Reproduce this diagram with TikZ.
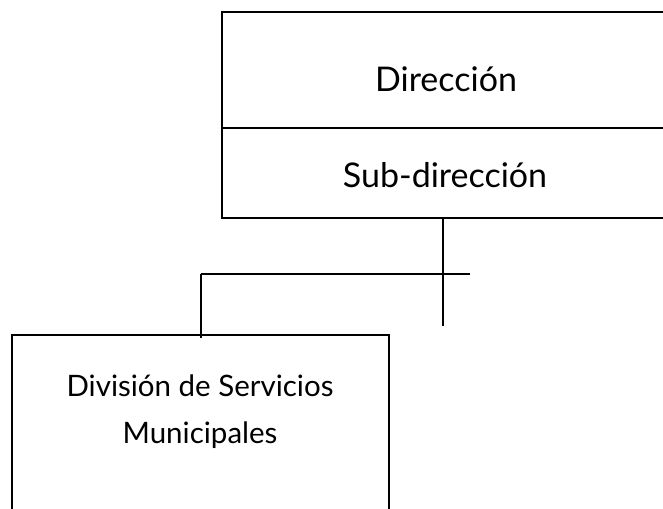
\documentclass[tikz,border=0pt]{standalone}
\usepackage{fontspec}
\setmainfont{Lato}
\usetikzlibrary{positioning}
\tikzset{
  orgbox/.style={draw,line width=2pt,inner sep=0pt,anchor=north west},
  orgtext/.style={font=\fontsize{34}{40}\selectfont,align=center,inner sep=0pt,anchor=base}
}
\begin{document}
\begin{tikzpicture}[x=1pt,y=-1pt,line width=2pt]
\clip
  (0,0) rectangle (663,508);
% boxes
\node[orgbox,minimum width=449pt,minimum height=116pt] (dir) at (220.7,11) {};
\node[orgbox,minimum width=449pt,minimum height=90pt] (sub) at (220.7,127) {};
\node[orgbox,minimum width=377pt,minimum height=220pt] (div) at (11,334) {};
\node[orgtext] (dirlabel) at (446,92) {Dirección};
\node[orgtext] (sublabel) at (445,187) {Sub-dirección};
\node[orgtext,font=\fontsize{29.5}{47}\selectfont] (divlabel) at (200,443) {División de Servicios\\Municipales};
% connectors
\coordinate (drop) at (443,326);
\coordinate (hl) at (200.7,274);
\coordinate (hr) at (470,274);
\draw
  (sub.south -| drop) -- (drop)
  (hl) -- (hr)
  (hl) -- ([yshift=-4pt]div.north -| hl);
\end{tikzpicture}
\end{document}
